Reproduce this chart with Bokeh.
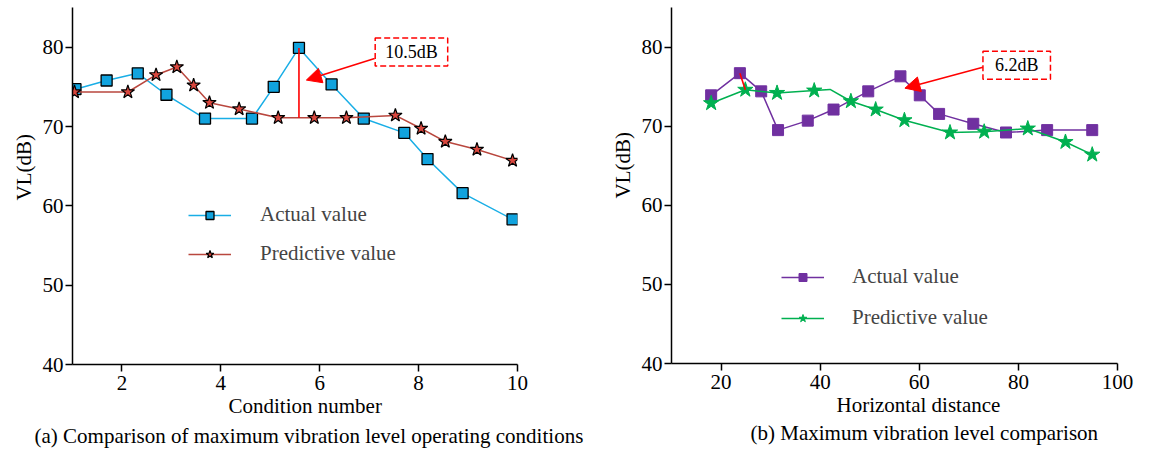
import numpy as np
from bokeh.plotting import figure
from bokeh.models import (Range1d, Label, Arrow, NormalHead, Legend, LegendItem,
                          FixedTicker, Title)
from bokeh.layouts import row
from bokeh.embed import file_html
from bokeh.resources import INLINE

FONT = "Liberation Serif"

# ---------------- data: (a) condition number ----------------
cond_actual = [1.06, 1.69, 2.32, 2.90, 3.68, 4.63, 5.07, 5.58, 6.24, 6.89, 7.71, 8.18, 8.89, 9.90]
vl_actual_a = [74.7, 75.8, 76.7, 74.0, 71.0, 71.0, 75.0, 79.9, 75.3, 71.0, 69.2, 65.9, 61.6, 58.3]
cond_pred = [1.04, 2.12, 2.69, 3.11, 3.45, 3.77, 4.37, 5.16, 5.89, 6.54, 7.53, 8.05, 8.54, 9.18, 9.90]
vl_pred_a = [74.35, 74.35, 76.5, 77.5, 75.2, 73.0, 72.2, 71.1, 71.1, 71.1, 71.4, 69.75, 68.1, 67.1, 65.7]

# ---------------- data: (b) horizontal distance ----------------
dist_actual = [18.0, 23.8, 28.1, 31.5, 37.5, 42.7, 49.7, 56.2, 60.1, 64.0, 70.9, 77.5, 85.8, 94.9]
vl_actual_b = [73.9, 76.7, 74.4, 69.5, 70.7, 72.1, 74.4, 76.3, 73.9, 71.55, 70.3, 69.2, 69.5, 69.5]
dist_pred = [18.0, 24.9, 31.3, 38.8, 42.0, 46.2, 51.2, 57.0, 66.2, 73.1, 81.9, 89.5, 94.9]
vl_pred_b = [72.9, 74.6, 74.2, 74.5, 74.65, 73.15, 72.1, 70.75, 69.2, 69.3, 69.7, 68.0, 66.4]
pred_b_marked = [1, 1, 1, 1, 0, 1, 1, 1, 1, 1, 1, 1, 1]

y_ticks = [40, 50, 60, 70, 80]
x_ticks_a = [2, 4, 6, 8, 10]
x_ticks_b = [20, 40, 60, 80, 100]

y_label = "VL(dB)"
labels_a = ["Condition number", "(a) Comparison of maximum vibration level operating conditions"]
labels_b = ["Horizontal distance", "(b) Maximum vibration level comparison"]
series_names = ["Actual value", "Predictive value"]
diff_texts = ["10.5dB", "6.2dB"]


def make_fig(fw, fh, bl, br, bb, xr, xticks):
    p = figure(frame_width=fw, frame_height=fh, x_range=Range1d(*xr), y_range=Range1d(40, 85),
               output_backend="svg", toolbar_location=None,
               min_border_left=bl, min_border_right=br, min_border_top=7,
               min_border_bottom=bb)
    p.xgrid.visible = False
    p.ygrid.visible = False
    p.outline_line_color = None
    p.xaxis.ticker = FixedTicker(ticks=xticks)
    p.yaxis.ticker = FixedTicker(ticks=y_ticks)
    for ax in p.axis:
        ax.axis_line_color = "black"
        ax.axis_line_width = 1.5
        ax.major_tick_line_color = "black"
        ax.major_tick_line_width = 1.5
        ax.major_tick_out = 7
        ax.major_tick_in = 0
        ax.minor_tick_line_color = None
        ax.major_label_text_font = FONT
        ax.major_label_text_font_size = "21px"
        ax.major_label_text_color = "black"
    p.xaxis.major_label_standoff = 4
    p.yaxis.major_label_standoff = 2
    return p


def add_title(p, text, place, offset, standoff, valign="bottom"):
    p.add_layout(Title(text=text, align="left", offset=offset, standoff=standoff,
                       vertical_align=valign,
                       text_font=FONT, text_font_size="21px", text_font_style="normal",
                       text_color="black"), place)


def add_legend(p, items, loc, spacing, standoff):
    lg = Legend(items=items, location=loc, glyph_width=43, glyph_height=20, label_height=20,
                spacing=spacing, padding=0, margin=0, border_line_color=None,
                background_fill_alpha=0, label_standoff=standoff,
                label_text_font=FONT, label_text_font_size="21px")
    p.add_layout(lg)


# ---------------- figure (a) ----------------
p1 = make_fig(445, 357, 72, 83, 98, (1, 10), x_ticks_a)
la = p1.line(cond_actual, vl_actual_a, line_color="#19aee6", line_width=1.5)
sa = p1.scatter(cond_actual, vl_actual_a, marker="square", size=11,
                fill_color="#11a3de", line_color="black", line_width=1.3)
lp = p1.line(cond_pred, vl_pred_a, line_color="#b9473e", line_width=1.5)
sp = p1.scatter(cond_pred, vl_pred_a, marker="star", size=14,
                fill_color="#d9473e", line_color="black", line_width=1.2)

ia = int(np.argmax(vl_actual_a))
px = cond_actual[ia]
p1.segment(x0=[px], y0=[vl_actual_a[ia]], x1=[px], y1=[float(np.interp(px, cond_pred, vl_pred_a))],
           line_color="red", line_width=1.6)
p1.add_layout(Arrow(end=NormalHead(size=15, fill_color="red", line_color="red"),
                    x_start=7.11, y_start=78.56, x_end=5.73, y_end=75.85,
                    line_color="red", line_width=1.6))
p1.add_layout(Label(x=7.855, y=79.4, text=diff_texts[0], text_align="center",
                    text_baseline="middle", text_font=FONT, text_font_size="18px",
                    text_color="black",
                    border_line_color="red", border_line_dash="6 3", border_line_width=1.5,
                    background_fill_color="white", padding=(10, 4)))

add_legend(p1, [LegendItem(label=series_names[0], renderers=[la, sa]),
                LegendItem(label=series_names[1], renderers=[lp, sp])],
           (116, 98), 14, 29)

add_title(p1, y_label, "left", 164, 8)
add_title(p1, labels_a[0], "below", 156, 3, "top")
add_title(p1, labels_a[1], "below", -38, 5, "top")

# ---------------- figure (b) ----------------
p2 = make_fig(446, 356, 71, 40, 99, (10, 100), x_ticks_b)
lb = p2.line(dist_actual, vl_actual_b, line_color="#7030a0", line_width=1.5)
sb = p2.scatter(dist_actual, vl_actual_b, marker="square", size=11,
                fill_color="#7030a0", line_color="#7030a0")
lpb = p2.line(dist_pred, vl_pred_b, line_color="#00b050", line_width=1.5)
mk = np.array(pred_b_marked, dtype=bool)
spb = p2.scatter(np.array(dist_pred)[mk], np.array(vl_pred_b)[mk], marker="star", size=16,
                 fill_color="#00b050", line_color="#00b050")

ib = int(np.argmax(vl_actual_b))
jb = int(np.argmin(np.abs(np.array(dist_pred) - dist_actual[ib])))
p2.segment(x0=[dist_actual[ib]], y0=[vl_actual_b[ib]], x1=[dist_pred[jb]], y1=[vl_pred_b[jb]],
           line_color="red", line_width=1.6)
p2.add_layout(Arrow(end=NormalHead(size=15, fill_color="red", line_color="red"),
                    x_start=72.83, y_start=77.46, x_end=57.1, y_end=74.8,
                    line_color="red", line_width=1.6))
p2.add_layout(Label(x=79.66, y=77.7, text=diff_texts[1], text_align="center",
                    text_baseline="middle", text_font=FONT, text_font_size="18px",
                    text_color="black",
                    border_line_color="red", border_line_dash="6 3", border_line_width=1.5,
                    background_fill_color="white", padding=(12, 4)))

add_legend(p2, [LegendItem(label=series_names[0], renderers=[lb, sb]),
                LegendItem(label=series_names[1], renderers=[lpb, spb])],
           (110, 33), 16, 28)

add_title(p2, y_label, "left", 165, 8)
add_title(p2, labels_b[0], "below", 165, 3, "top")
add_title(p2, labels_b[1], "below", 79, 0, "top")

layout = row(p1, p2)
open("out.html", "w").write(file_html(layout, INLINE))
